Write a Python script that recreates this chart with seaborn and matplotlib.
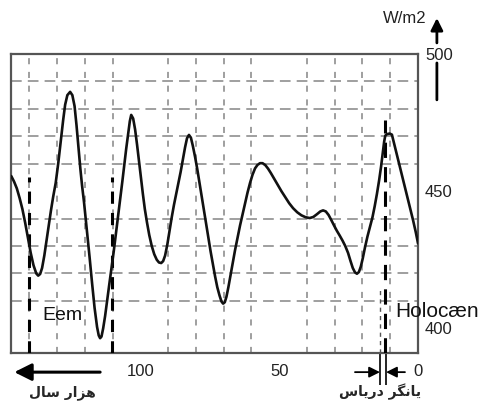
import matplotlib
matplotlib.use("Agg")
import matplotlib.pyplot as plt
import seaborn as sns
import pandas as pd

# insolation curve (thousand years ago, W/m2)
kyr = [146.5, 145.5, 144.5, 143.5, 142.5, 141.5, 140.5, 139.5, 138.5, 137.5,
       136.8, 136.1, 135.4, 134.6, 133.8, 133.0, 132.2, 131.4, 130.5, 129.6,
       128.6, 127.8, 127.1, 126.3, 125.3, 124.5, 123.7, 123.0, 122.3, 121.6,
       121.0, 120.3, 119.3, 118.3, 117.4, 116.5, 115.6, 115.0, 114.5, 114.0,
       113.4, 112.7, 112.0, 111.2, 110.4, 109.6, 108.8, 108.0, 107.2, 106.5,
       105.8, 105.1, 104.4, 103.8, 103.3, 102.6, 101.9, 101.2, 100.5, 99.8,
       99.1, 98.4, 97.6, 96.8, 95.9, 95.0, 94.1, 93.3, 92.5, 91.8,
       91.1, 90.3, 89.5, 88.7, 87.9, 87.1, 86.3, 85.5, 84.7, 83.9,
       83.2, 82.5, 81.8, 81.1, 80.3, 79.5, 78.7, 77.9, 77.1, 76.3,
       75.5, 74.7, 73.9, 73.1, 72.3, 71.5, 70.8, 70.2, 69.6, 69.0,
       68.3, 67.5, 66.7, 65.9, 65.0, 64.1, 63.2, 62.3, 61.4, 60.5,
       59.6, 58.7, 57.8, 56.9, 56.0, 55.0, 54.0, 53.0, 51.8, 50.5,
       49.2, 47.8, 46.4, 45.0, 43.5, 42.0, 40.5, 39.0, 37.7, 36.4,
       35.2, 34.2, 33.2, 32.2, 31.2, 30.2, 29.2, 28.2, 27.2, 26.2,
       25.2, 24.3, 23.5, 22.7, 22.0, 21.3, 20.6, 19.9, 19.1, 18.2,
       17.3, 16.4, 15.6, 14.8, 14.0, 13.3, 12.7, 12.2, 11.8, 11.2,
       10.2, 9.4, 8.4, 7.3, 6.2, 5.1, 4.0, 2.9, 1.8, 0.8,
       0.0]
wm2 = [455.5, 453.5, 451.0, 447.5, 443.5, 438.5, 433.0, 427.5, 423.0, 420.0,
       419.2, 419.8, 422.0, 426.5, 432.0, 437.5, 443.0, 448.0, 453.0, 460.0,
       469.0, 476.0, 481.5, 485.0, 486.2, 485.0, 481.0, 474.0, 466.0, 458.0,
       452.0, 446.0, 436.0, 426.0, 416.5, 407.5, 400.5, 397.4, 396.4, 397.0,
       400.0, 404.5, 410.0, 416.0, 422.0, 428.0, 434.5, 441.0, 447.5, 453.5,
       459.5, 465.5, 471.0, 475.5, 477.8, 476.5, 472.5, 467.0, 461.0, 455.0,
       449.0, 443.5, 438.5, 434.0, 430.0, 427.0, 425.0, 424.0, 423.8, 424.5,
       426.5, 430.5, 435.5, 440.5, 445.0, 449.0, 453.0, 457.0, 461.5, 466.0,
       469.3, 470.5, 469.5, 466.5, 462.5, 458.0, 453.0, 448.0, 443.0, 438.0,
       433.0, 428.0, 423.5, 419.0, 415.0, 412.0, 409.8, 409.0, 409.5, 411.5,
       415.0, 419.5, 424.0, 428.5, 433.0, 437.5, 441.5, 445.5, 449.5, 453.0,
       456.0, 458.3, 459.6, 460.2, 460.2, 459.5, 458.2, 456.6, 454.5, 452.2,
       450.0, 447.8, 445.6, 443.8, 442.3, 441.2, 440.5, 440.2, 440.6, 441.6,
       442.6, 443.0, 442.6, 441.3, 439.4, 437.4, 435.5, 433.8, 432.0, 430.0,
       427.5, 424.5, 422.0, 420.4, 419.9, 420.5, 422.5, 425.5, 429.5, 433.5,
       437.0, 440.5, 444.5, 449.0, 454.0, 459.0, 464.0, 468.0, 470.2, 470.8,
       471.0, 470.6, 466.5, 462.0, 457.5, 453.0, 448.5, 444.0, 439.5, 435.0,
       431.0]

x_ticks = [100, 50, 0]
y_ticks = [400, 450, 500]
x_grid = list(range(10, 150, 10))
y_grid = list(range(400, 500, 10))
eem_bounds = [140, 110.2]
holocene_start = 11.9
younger_dryas = [13.7, 11.5]

# persian labels, pre-shaped in visual order (logical: "هزار سال", "یانگر دریاس")
label_years = "\uFEDD\uFE8E\uFEB3 \uFEAD\uFE8D\uFEB0\uFEEB"
label_yd = "\uFEB1\uFE8E\uFEF3\uFEAD\uFEA9 \uFEAE\uFB95\uFEE7\uFE8E\uFEF3"

sns.set_style("white")
plt.rcParams["font.family"] = ["Liberation Sans", "DejaVu Sans"]

fig = plt.figure(figsize=(4.78, 4.01), dpi=100)
ax = fig.add_axes([0.023, 0.1197, 0.8515, 0.7456])

df = pd.DataFrame({"kyr": kyr, "wm2": wm2})
sns.lineplot(data=df, x="kyr", y="wm2", ax=ax, color="#111111", lw=1.9,
             sort=False, estimator=None, zorder=4)

ax.set_xlim(146.6, 0)
ax.set_ylim(391, 499.2)
ax.set_xlabel("")
ax.set_ylabel("")

# dashed grid
ax.set_xticks(x_grid, minor=True)
ax.set_yticks(y_grid, minor=True)
ax.set_xticks(x_ticks)
ax.set_yticks(y_ticks)
ax.xaxis.grid(True, which="minor", color="#858585", ls=(0, (4, 5)), lw=1.1)
ax.yaxis.grid(True, which="minor", color="#858585", ls=(0, (7, 4)), lw=1.1)
ax.set_axisbelow(True)

ax.yaxis.tick_right()
ax.tick_params(axis="both", which="both", length=0, labelsize=12, labelcolor="#222222")
ax.tick_params(axis="y", pad=5)
ax.tick_params(axis="x", pad=8)
for s in ax.spines.values():
    s.set_color("#555555")
    s.set_linewidth(1.6)

# period boundaries
ax.vlines(eem_bounds, 391, 455, colors="black", linestyles=(0, (4, 3)), lw=2.2, zorder=3)
ax.vlines(holocene_start, 391, 476, colors="black", linestyles=(0, (5, 3)), lw=2.2, zorder=3)
ax.vlines(younger_dryas[0], 391, 414, colors="#555555", linestyles=(0, (3, 3)), lw=1, zorder=3)

tr = ax.get_xaxis_transform()
ax.vlines(younger_dryas, -0.107, 0, colors="black", lw=1.2, transform=tr, clip_on=False)
arrow = dict(arrowstyle="-|>", color="black", lw=1.3, mutation_scale=16, shrinkA=0, shrinkB=0)
ax.annotate("", xy=(younger_dryas[0], -0.064), xytext=(22.7, -0.064), xycoords=tr,
            arrowprops=arrow, annotation_clip=False)
ax.annotate("", xy=(younger_dryas[1], -0.064), xytext=(4.7, -0.064), xycoords=tr,
            arrowprops=arrow, annotation_clip=False)
ax.annotate("", xy=(145.4, -0.064), xytext=(114.5, -0.064), xycoords=tr,
            arrowprops=dict(arrowstyle="-|>", color="black", lw=2.2, mutation_scale=26,
                            shrinkA=0, shrinkB=0), annotation_clip=False)

ax.text(135.4, 404.7, "Eem", fontsize=14, va="center", ha="left", color="#111111", zorder=5)
ax.text(8.3, 406.1, "Holocæn", fontsize=15, va="center", ha="left", color="#111111", zorder=5)

fig.text(0.13, 0.022, label_years, family=["DejaVu Sans"], weight="bold",
         fontsize=10, ha="center", va="center")
fig.text(0.795, 0.022, label_yd, family=["DejaVu Sans"], weight="bold",
         fontsize=10, ha="center", va="center")

# unit label with vertical arrow
fig.text(0.847, 0.955, "W/m2", fontsize=12, ha="center", va="center", color="#222222")
ax.annotate("", xy=(0.914, 0.955), xytext=(0.914, 0.893), xycoords="figure fraction",
            arrowprops=dict(arrowstyle="-|>", color="black", lw=2, mutation_scale=18,
                            shrinkA=0, shrinkB=0), annotation_clip=False)
ax.annotate("", xy=(0.914, 0.843), xytext=(0.914, 0.751), xycoords="figure fraction",
            arrowprops=dict(arrowstyle="-", color="black", lw=2, shrinkA=0, shrinkB=0),
            annotation_clip=False)

fig.savefig("out.png", dpi=100)
